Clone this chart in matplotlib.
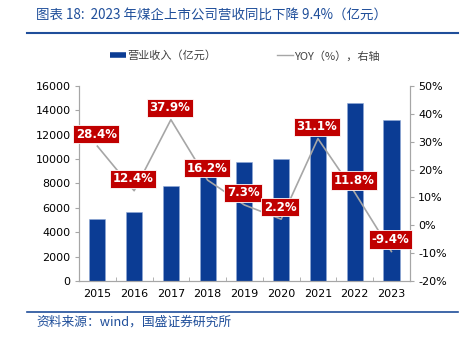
import matplotlib.pyplot as plt
from matplotlib.lines import Line2D
from matplotlib.ticker import PercentFormatter
import numpy as np

plt.rcParams['font.family'] = ['DejaVu Sans', 'Noto Sans CJK SC']
plt.rcParams['axes.unicode_minus'] = False

years = ['2015', '2016', '2017', '2018', '2019', '2020', '2021', '2022', '2023']
revenue = [5050, 5670, 7820, 9090, 9760, 9970, 13060, 14600, 13240]
yoy = [28.4, 12.4, 37.9, 16.2, 7.3, 2.2, 31.1, 11.8, -9.4]
yoy_labels = ['28.4%', '12.4%', '37.9%', '16.2%', '7.3%', '2.2%', '31.1%', '11.8%', '-9.4%']

BAR_COLOR = '#0B3C94'
LINE_COLOR = '#A6A6A6'
LABEL_RED = '#C00000'
TITLE_BLUE = '#1F4E9A'
SPINE_GRAY = '#A6A6A6'

fig = plt.figure(figsize=(4.62, 3.37), dpi=100)
ax = fig.add_axes([0.171, 0.166, 0.716, 0.579])
ax2 = ax.twinx()

x = np.arange(len(years))
ax.bar(x, revenue, width=0.44, color=BAR_COLOR, edgecolor='#8FA8D6', linewidth=0.4, zorder=2)
ax.set_xlim(-0.5, len(years) - 0.5)
ax.set_ylim(0, 16000)
ax.set_yticks(range(0, 16001, 2000))
ax.set_xticks(x)
ax.set_xticklabels(years)
ax.set_xticks(np.arange(-0.5, len(years), 1), minor=True)
ax.tick_params(axis='x', which='major', length=0, labelsize=8, pad=6)
ax.tick_params(axis='x', which='minor', length=3, direction='in', color=SPINE_GRAY)
ax.tick_params(axis='y', length=3, color=SPINE_GRAY, labelsize=8, pad=3)

ax2.plot(x, yoy, color=LINE_COLOR, linewidth=1.2, zorder=3)
ax2.set_ylim(-20, 50)
ax2.set_yticks(range(-20, 51, 10))
ax2.yaxis.set_major_formatter(PercentFormatter(decimals=0))
ax2.tick_params(axis='y', length=3, color=SPINE_GRAY, labelsize=8, pad=3)

for a in (ax, ax2):
    a.spines['top'].set_visible(False)
    for s in ('left', 'right', 'bottom'):
        a.spines[s].set_color(SPINE_GRAY)
        a.spines[s].set_linewidth(0.8)

for xi, v, lab in zip(x, yoy, yoy_labels):
    ax2.annotate(lab, (xi, v), xytext=(-1, 12), textcoords='offset pixels',
                 ha='center', va='center', color='white', fontsize=8.5, fontweight='bold',
                 bbox=dict(boxstyle='square,pad=0.22', facecolor=LABEL_RED, edgecolor='white', linewidth=0.6),
                 zorder=5)

handles = [Line2D([], [], color=BAR_COLOR, linewidth=4, solid_capstyle='butt'),
           Line2D([], [], color=LINE_COLOR, linewidth=1)]
leg = fig.legend(handles, ['营业收入（亿元）', 'YOY（%），右轴'], loc='center',
                 bbox_to_anchor=(0.53, 0.834), ncol=2, frameon=False,
                 handlelength=1.4, handletextpad=0.1, columnspacing=5.5,
                 prop={'family': ['Noto Sans CJK SC', 'DejaVu Sans'], 'size': 8})
for t in leg.get_texts():
    t.set_color('#404040')

fig.text(0.078, 0.955, '图表 18:  2023 年煤企上市公司营收同比下降 9.4%（亿元）', color=TITLE_BLUE,
         fontsize=9.7, style='italic', va='center', family=['Noto Sans CJK SC', 'DejaVu Sans'])
fig.add_artist(Line2D([0.058, 0.992], [0.902, 0.902], color=TITLE_BLUE, linewidth=1.5))
fig.add_artist(Line2D([0.058, 0.992], [0.074, 0.074], color=TITLE_BLUE, linewidth=1.2))
fig.text(0.078, 0.043, '资料来源：wind，国盛证券研究所', color=TITLE_BLUE,
         fontsize=9.2, style='italic', va='center', family=['Noto Sans CJK SC', 'DejaVu Sans'])

fig.savefig('out.png', dpi=100)
